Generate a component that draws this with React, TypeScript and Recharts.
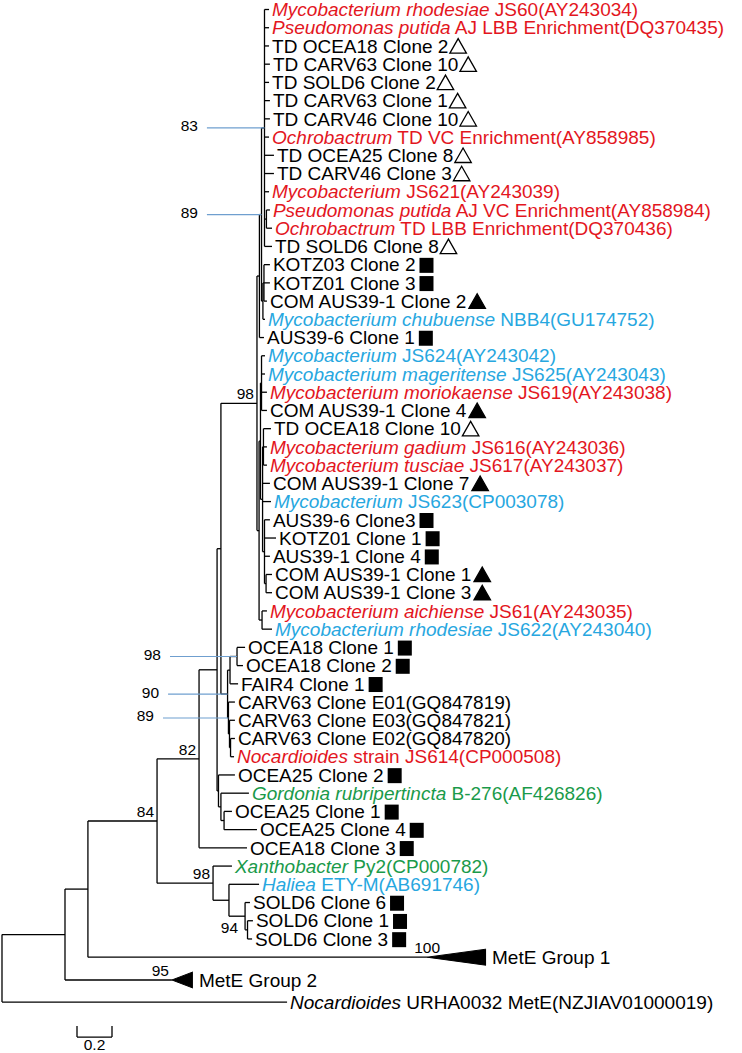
import React from "react";
import { ComposedChart, XAxis, YAxis, Scatter, Area, ReferenceLine } from "recharts";

const W = 742;
const H = 1053;
const FONT = "'Liberation Sans', Arial, Helvetica, sans-serif";

const COLORS: Record<string, string> = {
  k: "#000000",
  r: "#e3161e",
  b: "#27a7df",
  g: "#1a9a4a",
};
const LEADER = "#6f9fcf";

// internal nodes: [id, parent, distance from root (subst./site)]
const nodes: [string, string | null, number][] = [
  ["root", null, 0],
  ["A", "root", 0.36],
  ["B", "A", 0.491],
  ["C", "B", 0.886],
  ["D", "C", 1.126],
  ["X", "C", 1.206],
  ["F", "D", 1.229],
  ["G", "F", 1.251],
  ["L", "F", 1.237],
  ["P", "G", 1.457],
  ["K", "G", 1.289],
  ["Q", "P", 1.471],
  ["Z", "P", 1.469],
  ["N89", "Q", 1.483],
  ["N83", "N89", 1.5],
  ["T", "N83", 1.511],
  ["Y", "N89", 1.491],
  ["Yt", "Y", 1.497],
  ["Z1", "Z", 1.477],
  ["A1", "Z1", 1.483],
  ["A2", "Z1", 1.489],
  ["A2a", "A2", 1.494],
  ["A2b", "A2", 1.5],
  ["A2c", "A2b", 1.509],
  ["Pr", "Z", 1.486],
  ["J", "K", 1.303],
  ["OC", "J", 1.343],
  ["V", "K", 1.294],
  ["W", "V", 1.3],
  ["W2", "W", 1.306],
  ["M", "L", 1.251],
  ["N", "M", 1.269],
  ["H", "X", 1.297],
  ["S", "H", 1.389],
  ["S2", "S", 1.403],
];

// leaves top to bottom: [row, parent, tip distance, italic part, plain part, colour, marker]
const leaves: [number, string, number, string, string, string, string][] = [
  [1, "N83", 1.526, "Mycobacterium rhodesiae", "JS60(AY243034)", "r", ""],
  [2, "N83", 1.526, "Pseudomonas putida", "AJ LBB Enrichment(DQ370435)", "r", ""],
  [3, "N83", 1.526, "", "TD OCEA18 Clone 2", "k", "open"],
  [4, "N83", 1.531, "", "TD CARV63 Clone 10", "k", "open"],
  [5, "N83", 1.526, "", "TD SOLD6 Clone 2", "k", "open"],
  [6, "N83", 1.531, "", "TD CARV63 Clone 1", "k", "open"],
  [7, "N83", 1.531, "", "TD CARV46 Clone 10", "k", "open"],
  [8, "N83", 1.526, "Ochrobactrum", "TD VC Enrichment(AY858985)", "r", ""],
  [9, "N83", 1.554, "", "TD OCEA25 Clone 8", "k", "open"],
  [10, "N83", 1.554, "", "TD CARV46 Clone 3", "k", "open"],
  [11, "N83", 1.526, "Mycobacterium", "JS621(AY243039)", "r", ""],
  [12, "T", 1.531, "Pseudomonas putida", "AJ VC Enrichment(AY858984)", "r", ""],
  [13, "T", 1.543, "Ochrobactrum", "TD LBB Enrichment(DQ370436)", "r", ""],
  [14, "N83", 1.543, "", "TD SOLD6 Clone 8", "k", "open"],
  [15, "Yt", 1.531, "", "KOTZ03 Clone 2", "k", "sq"],
  [16, "Yt", 1.531, "", "KOTZ01 Clone 3", "k", "sq"],
  [17, "Yt", 1.514, "", "COM AUS39-1 Clone 2", "k", "fill"],
  [18, "Y", 1.503, "Mycobacterium chubuense", "NBB4(GU174752)", "b", ""],
  [19, "Q", 1.497, "", "AUS39-6 Clone 1", "k", "sq"],
  [20, "A1", 1.503, "Mycobacterium", "JS624(AY243042)", "b", ""],
  [21, "A1", 1.503, "Mycobacterium mageritense", "JS625(AY243043)", "b", ""],
  [22, "A1", 1.514, "Mycobacterium moriokaense", "JS619(AY243038)", "r", ""],
  [23, "A1", 1.514, "", "COM AUS39-1 Clone 4", "k", "fill"],
  [24, "A2a", 1.537, "", "TD OCEA18 Clone 10", "k", "open"],
  [25, "A2a", 1.514, "Mycobacterium gadium", "JS616(AY243036)", "r", ""],
  [26, "A2a", 1.514, "Mycobacterium tusciae", "JS617(AY243037)", "r", ""],
  [27, "A2", 1.531, "", "COM AUS39-1 Clone 7", "k", "fill"],
  [28, "A2", 1.537, "Mycobacterium", "JS623(CP003078)", "b", ""],
  [29, "A2b", 1.531, "", "AUS39-6 Clone3", "k", "sq"],
  [30, "A2b", 1.566, "", "KOTZ01 Clone 1", "k", "sq"],
  [31, "A2b", 1.531, "", "AUS39-1 Clone 4", "k", "sq"],
  [32, "A2c", 1.543, "", "COM AUS39-1 Clone 1", "k", "fill"],
  [33, "A2c", 1.543, "", "COM AUS39-1 Clone 3", "k", "fill"],
  [34, "Pr", 1.514, "Mycobacterium aichiense", "JS61(AY243035)", "r", ""],
  [35, "Pr", 1.543, "Mycobacterium rhodesiae", "JS622(AY243040)", "b", ""],
  [36, "OC", 1.389, "", "OCEA18 Clone 1", "k", "sq"],
  [37, "OC", 1.377, "", "OCEA18 Clone 2", "k", "sq"],
  [38, "J", 1.349, "", "FAIR4 Clone 1", "k", "sq"],
  [39, "V", 1.331, "", "CARV63 Clone E01(GQ847819)", "k", ""],
  [40, "W", 1.331, "", "CARV63 Clone E03(GQ847821)", "k", ""],
  [41, "W2", 1.331, "", "CARV63 Clone E02(GQ847820)", "k", ""],
  [42, "W2", 1.326, "Nocardioides", "strain JS614(CP000508)", "r", ""],
  [43, "L", 1.331, "", "OCEA25 Clone 2", "k", "sq"],
  [44, "M", 1.411, "Gordonia rubripertincta", "B-276(AF426826)", "g", ""],
  [45, "N", 1.314, "", "OCEA25 Clone 1", "k", "sq"],
  [46, "N", 1.457, "", "OCEA25 Clone 4", "k", "sq"],
  [47, "D", 1.4, "", "OCEA18 Clone 3", "k", "sq"],
  [48, "X", 1.314, "Xanthobacter", "Py2(CP000782)", "g", ""],
  [49, "H", 1.469, "Haliea", "ETY-M(AB691746)", "b", ""],
  [50, "S", 1.417, "", "SOLD6 Clone 6", "k", "sq"],
  [51, "S2", 1.434, "", "SOLD6 Clone 1", "k", "sq"],
  [52, "S2", 1.429, "", "SOLD6 Clone 3", "k", "sq"],
  [53, "B", 2.429, "", "MetE Group 1", "k", ""],
  [54.25, "A", 0.971, "", "MetE Group 2", "k", ""],
  [55.46, "root", 1.629, "Nocardioides", "URHA0032 MetE(NZJIAV01000019)", "k", ""],
];

// collapsed clades: depth of the triangle
const collapsed: Record<string, number> = {
  "MetE Group 1": 0.337,
  "MetE Group 2": 0.12,
};

// bootstrap values
const supports: [string, number][] = [
  ["N83", 83],
  ["N89", 89],
  ["P", 98],
  ["OC", 98],
  ["K", 90],
  ["V", 89],
  ["D", 82],
  ["C", 84],
  ["X", 98],
  ["S2", 94],
  ["MetE Group 1", 100],
  ["MetE Group 2", 95],
];

// supports pulled out on a blue leader line (x where the line starts)
const leaders: Record<string, number> = { N83: 1.171, N89: 1.171, OC: 0.96, K: 0.949, V: 0.92 };
// label offsets (px) that differ from the default spot
const nudges: Record<string, [number, number]> = { S2: [-9.5, 3], "MetE Group 1": [13, -4.5] };

const scaleBar = { from: 0.4286, length: 0.2, row: 57.38, label: "0.2" };

const xDomain: [number, number] = [-0.0114, 4.2286];
const yDomain: [number, number] = [0.4787, 58.2565];

// ---- layout of the tree (MEGA style: node at middle of its children) ----
const nodeX: Record<string, number> = {};
nodes.forEach(([id, , x]) => {
  nodeX[id] = x;
});
const nodeY: Record<string, number> = {};
const span: Record<string, [number, number]> = {};
const placeNode = (id: string): number => {
  if (nodeY[id] !== undefined) return nodeY[id];
  const ys = [
    ...leaves.filter((l) => l[1] === id).map((l) => l[0]),
    ...nodes.filter((n) => n[1] === id).map((n) => placeNode(n[0])),
  ];
  const lo = Math.min(...ys);
  const hi = Math.max(...ys);
  span[id] = [lo, hi];
  nodeY[id] = (lo + hi) / 2;
  return nodeY[id];
};
nodes.forEach((n) => placeNode(n[0]));

type Seg = { x1: number; y1: number; x2: number; y2: number; color: string; w: number };
const segments: Seg[] = [];
nodes.forEach(([id, parent, x]) => {
  if (parent) segments.push({ x1: nodeX[parent], y1: nodeY[id], x2: x, y2: nodeY[id], color: "#000", w: 1.3 });
  segments.push({ x1: x, y1: span[id][0], x2: x, y2: span[id][1], color: "#000", w: 1.3 });
});
leaves.forEach(([row, parent, tip]) => {
  segments.push({ x1: nodeX[parent], y1: row, x2: tip, y2: row, color: "#000", w: 1.3 });
});
Object.keys(leaders).forEach((id) => {
  segments.push({ x1: leaders[id], y1: nodeY[id], x2: nodeX[id], y2: nodeY[id], color: LEADER, w: 1.2 });
});
const sb = scaleBar;
segments.push({ x1: sb.from, y1: sb.row, x2: sb.from + sb.length, y2: sb.row, color: "#000", w: 1.3 });
segments.push({ x1: sb.from, y1: sb.row - 0.6, x2: sb.from, y2: sb.row, color: "#000", w: 1.3 });
segments.push({ x1: sb.from + sb.length, y1: sb.row - 0.6, x2: sb.from + sb.length, y2: sb.row, color: "#000", w: 1.3 });

const leafPoints = leaves.map(([row, , tip, italic, plain, color, marker]) => ({
  x: tip + (collapsed[plain] || 0),
  y: row,
  italic,
  plain,
  color: COLORS[color],
  marker,
  collapsed: !!collapsed[plain],
}));

const triangles = leaves
  .filter((l) => collapsed[l[4]])
  .map(([row, , tip, , plain]) => [
    { x: tip, band: [row, row] },
    { x: tip + collapsed[plain], band: [row - 0.44, row + 0.44] },
  ]);

const supportPoints = supports.map(([id, value]) => {
  const leaf = leaves.find((l) => l[4] === id);
  return {
    id,
    value,
    x: leaf ? leaf[2] : nodeX[id],
    y: leaf ? leaf[0] : nodeY[id],
  };
});

let ctx: CanvasRenderingContext2D | null = null;
const textWidth = (s: string, italic: boolean) => {
  if (!ctx) ctx = document.createElement("canvas").getContext("2d");
  if (!ctx) return s.length * 10;
  ctx.font = `${italic ? "italic " : ""}19px 'Liberation Sans', Arial, sans-serif`;
  return ctx.measureText(s).width;
};

const LeafLabel = (props: any) => {
  const d = props.payload;
  if (!d) return null;
  const x0 = props.cx + (d.collapsed ? 6 : 3);
  const base = props.cy + 6.7;
  const rest = d.italic ? " " + d.plain : d.plain;
  const end = x0 + (d.italic ? textWidth(d.italic, true) : 0) + textWidth(rest, false);
  let marker = null;
  if (d.marker === "sq") {
    marker = <rect x={end + 4} y={base - 13.5} width={14} height={15} fill="#000" />;
  } else if (d.marker === "open" || d.marker === "fill") {
    marker = (
      <polygon
        points={`${end + 1.5},${base + 0.5} ${end + 18},${base + 0.5} ${end + 9.75},${base - 14}`}
        fill={d.marker === "fill" ? "#000" : "#fff"}
        stroke="#000"
        strokeWidth={1.3}
      />
    );
  }
  return (
    <g>
      <text x={x0} y={base} fill={d.color} fontSize={19} fontFamily={FONT} style={{ whiteSpace: "pre" }}>
        {d.italic ? <tspan fontStyle="italic">{d.italic}</tspan> : null}
        {rest}
      </text>
      {marker}
    </g>
  );
};

const SupportLabel = (props: any) => {
  const d = props.payload;
  if (!d) return null;
  let x = props.cx - 3;
  let y = props.cy - 4;
  if (leaders[d.id] !== undefined) {
    // leader start is in data units; measure back from the node in px
    const pxPerUnit = W / (xDomain[1] - xDomain[0]);
    x = props.cx - (nodeX[d.id] - leaders[d.id]) * pxPerUnit - 9;
    y = props.cy + 3.5;
  } else if (nudges[d.id]) {
    x = props.cx + nudges[d.id][0];
    y = props.cy + nudges[d.id][1];
  }
  return (
    <text x={x} y={y} textAnchor="end" fontSize={15.5} fontFamily={FONT} fill="#000">
      {d.value}
    </text>
  );
};

const ScaleLabel = (props: any) => (
  <text x={props.cx} y={props.cy + 12.5} textAnchor="middle" fontSize={15.5} fontFamily={FONT} fill="#000">
    {scaleBar.label}
  </text>
);

export default function App() {
  return (
    <div style={{ position: "absolute", left: 0, top: 0, width: W, height: H, background: "#fff" }}>
      <ComposedChart width={W} height={H} margin={{ top: 0, right: 0, bottom: 0, left: 0 }}>
        <XAxis type="number" dataKey="x" domain={xDomain} allowDataOverflow hide />
        <YAxis type="number" dataKey="y" domain={yDomain} allowDataOverflow reversed hide />
        {segments.map((s, i) => (
          <ReferenceLine
            key={`seg-${i}`}
            segment={[
              { x: s.x1, y: s.y1 },
              { x: s.x2, y: s.y2 },
            ]}
            stroke={s.color}
            strokeWidth={s.w}
          />
        ))}
        {triangles.map((t, i) => (
          <Area
            key={`tri-${i}`}
            data={t}
            dataKey="band"
            type="linear"
            stroke="#000"
            strokeWidth={1}
            fill="#000"
            fillOpacity={1}
            dot={false}
            activeDot={false}
            isAnimationActive={false}
          />
        ))}
        <Scatter data={leafPoints} dataKey="y" shape={LeafLabel} isAnimationActive={false} />
        <Scatter data={supportPoints} dataKey="y" shape={SupportLabel} isAnimationActive={false} />
        <Scatter
          data={[{ x: scaleBar.from + scaleBar.length / 2, y: scaleBar.row }]}
          dataKey="y"
          shape={ScaleLabel}
          isAnimationActive={false}
        />
      </ComposedChart>
    </div>
  );
}
